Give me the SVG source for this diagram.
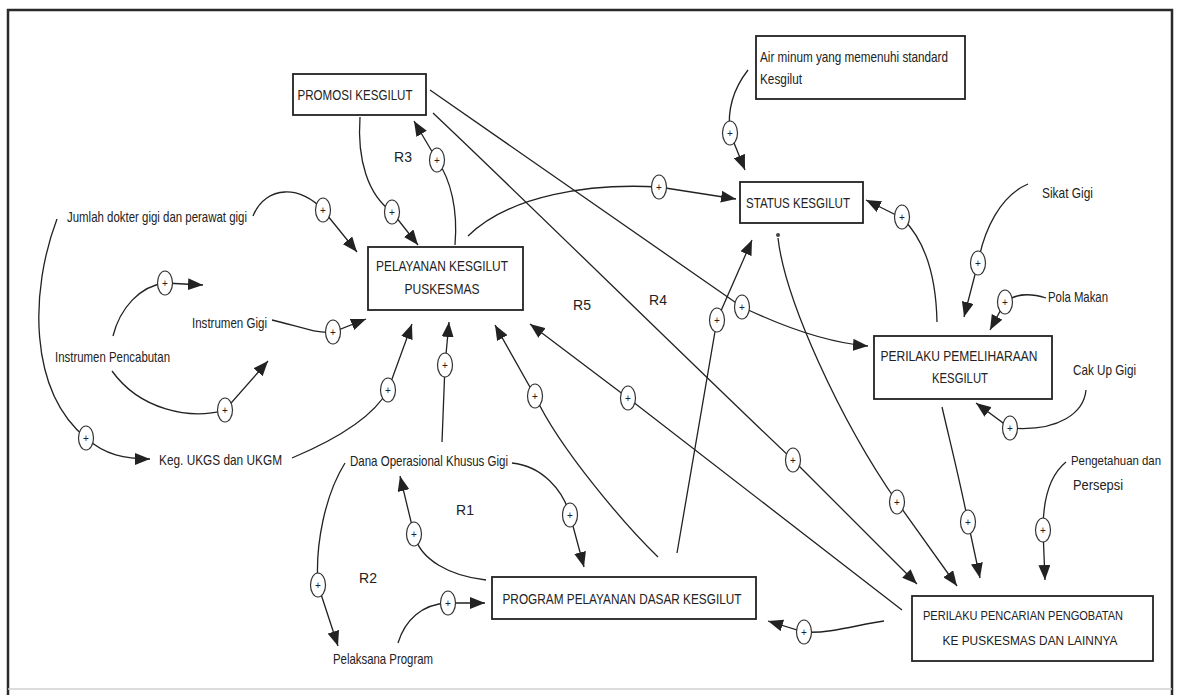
<svg xmlns="http://www.w3.org/2000/svg" xmlns:xlink="http://www.w3.org/1999/xlink" width="1182" height="695" viewBox="0 0 1182 695">
<style>
text{font-family:"Liberation Sans",Arial,sans-serif;fill:#222}
.lbl{font-size:15px}
.sm{font-size:13px}
.bt{font-size:15px;text-anchor:middle}
.bt2{font-size:13.5px;text-anchor:middle}
.box{fill:#fff;stroke:#222;stroke-width:1.8}
.conn path{fill:none;stroke:#222;stroke-width:1.3;marker-end:url(#ah)}
.pl ellipse{fill:#fff;stroke:#333;stroke-width:1.2}
.pl text{font-size:10px;text-anchor:middle}
.r{font-size:14px;text-anchor:middle}
</style>
<defs>
<marker id="ah" markerUnits="userSpaceOnUse" markerWidth="16" markerHeight="12" refX="15" refY="6" orient="auto">
<path d="M0,0 L15,6 L0,12 z" fill="#222"/>
</marker>
<g id="plus" class="pl"><ellipse cx="0" cy="0" rx="7.5" ry="12"/><text x="0" y="3.5">+</text></g>
</defs>
<rect width="1182" height="695" fill="#fff"/>
<path d="M8,697 V10 H1172 V697" fill="none" stroke="#2a2a2a" stroke-width="2.5"/>
<line x1="8" y1="689" x2="1172" y2="689" stroke="#d0d0d0" stroke-width="1.5"/>

<g id="connectors" class="conn">
<path d="M253,216 C266,184 302,186 323,210 L357,252"/>
<path d="M360,117 C357,160 368,195 392,212 L418,245"/>
<path d="M455,245 C458,210 451,180 437,160 L414,121"/>
<path d="M468,236 C510,195 590,183 659,187 L736,199"/>
<path d="M748,70 C734,88 727,110 730,133 L745,170"/>
<path d="M430,90 L742,307 C790,330 830,343 868,346"/>
<path d="M937,322 C936,275 925,240 902,218 L866,200"/>
<path d="M1028,184 C1000,196 984,230 978,263 L964,317"/>
<path d="M1046,298 C1030,293 1015,294 1005,302 L990,330"/>
<path d="M1086,390 C1084,412 1060,432 1010,428 L976,403"/>
<path d="M677,553 L717,320 L752,240"/>
<path d="M658,557 C628,528 560,450 535,396 L495,325"/>
<path d="M902,610 L628,398 L530,324"/>
<path d="M433,113 C520,195 700,372 793,460 L917,584"/>
<path d="M778,238 C785,300 840,420 897,502 L957,586"/>
<path d="M942,407 C952,450 962,490 968,522 L980,578"/>
<path d="M1066,462 C1050,475 1043,500 1043,530 L1045,580"/>
<path d="M884,621 C860,624 830,634 804,632 L768,621"/>
<path d="M442,442 L445,365 L449,322"/>
<path d="M292,458 C330,442 372,420 388,390 L412,324"/>
<path d="M272,320 C295,325 315,334 333,332 L366,319"/>
<path d="M112,371 C140,410 190,420 225,410 L268,361"/>
<path d="M113,336 C120,308 140,286 165,283 L203,285"/>
<path d="M57,219 C30,290 28,390 86,438 C105,455 125,459 150,459"/>
<path d="M512,463 C542,466 563,490 570,515 L584,567"/>
<path d="M486,580 C450,576 420,560 414,534 L400,476"/>
<path d="M345,463 C325,495 315,545 318,585 L338,646"/>
<path d="M398,643 C405,620 422,604 448,603 L485,603"/>
<circle cx="778" cy="235" r="2" fill="#444"/>
<use xlink:href="#plus" x="323" y="210"/>
<use xlink:href="#plus" x="392" y="212"/>
<use xlink:href="#plus" x="437" y="160"/>
<use xlink:href="#plus" x="659" y="187"/>
<use xlink:href="#plus" x="730" y="133"/>
<use xlink:href="#plus" x="902" y="217"/>
<use xlink:href="#plus" x="978" y="263"/>
<use xlink:href="#plus" x="1005" y="302"/>
<use xlink:href="#plus" x="1010" y="428"/>
<use xlink:href="#plus" x="742" y="307"/>
<use xlink:href="#plus" x="717" y="320"/>
<use xlink:href="#plus" x="165" y="283"/>
<use xlink:href="#plus" x="333" y="332"/>
<use xlink:href="#plus" x="225" y="410"/>
<use xlink:href="#plus" x="388" y="390"/>
<use xlink:href="#plus" x="445" y="365"/>
<use xlink:href="#plus" x="535" y="396"/>
<use xlink:href="#plus" x="628" y="398"/>
<use xlink:href="#plus" x="793" y="460"/>
<use xlink:href="#plus" x="897" y="502"/>
<use xlink:href="#plus" x="968" y="522"/>
<use xlink:href="#plus" x="1043" y="530"/>
<use xlink:href="#plus" x="86" y="438"/>
<use xlink:href="#plus" x="414" y="534"/>
<use xlink:href="#plus" x="570" y="515"/>
<use xlink:href="#plus" x="318" y="585"/>
<use xlink:href="#plus" x="448" y="603"/>
<use xlink:href="#plus" x="804" y="632"/>
</g>

<g id="promosi"><rect class="box" x="293" y="74" width="133" height="41"/><text class="bt" x="355" y="100" textLength="115" lengthAdjust="spacingAndGlyphs">PROMOSI KESGILUT</text></g>
<g id="air-minum"><rect class="box" x="756" y="36" width="209" height="63"/><text class="lbl" x="760" y="62" textLength="188" lengthAdjust="spacingAndGlyphs">Air minum yang memenuhi standard</text><text class="lbl" x="760" y="84" textLength="42" lengthAdjust="spacingAndGlyphs">Kesgilut</text></g>
<g id="status"><rect class="box" x="740" y="182" width="123" height="41"/><text class="bt" x="798" y="208" textLength="104" lengthAdjust="spacingAndGlyphs">STATUS KESGILUT</text></g>
<g id="pelayanan"><rect class="box" x="368" y="247" width="155" height="63"/><text class="bt" x="442" y="271" textLength="132" lengthAdjust="spacingAndGlyphs">PELAYANAN KESGILUT</text><text class="bt" x="442" y="294" textLength="75" lengthAdjust="spacingAndGlyphs">PUSKESMAS</text></g>
<g id="pemeliharaan"><rect class="box" x="874" y="336" width="178" height="63"/><text class="bt" x="959" y="361" textLength="157" lengthAdjust="spacingAndGlyphs">PERILAKU PEMELIHARAAN</text><text class="bt" x="960" y="383" textLength="56" lengthAdjust="spacingAndGlyphs">KESGILUT</text></g>
<g id="program"><rect class="box" x="492" y="577" width="264" height="42"/><text class="bt" x="622" y="604" textLength="239" lengthAdjust="spacingAndGlyphs">PROGRAM PELAYANAN DASAR KESGILUT</text></g>
<g id="pencarian"><rect class="box" x="912" y="596" width="241" height="65"/><text class="bt2" x="1023" y="620" textLength="200" lengthAdjust="spacingAndGlyphs">PERILAKU PENCARIAN PENGOBATAN</text><text class="bt2" x="1030" y="645" textLength="175" lengthAdjust="spacingAndGlyphs">KE PUSKESMAS DAN LAINNYA</text></g>

<g id="jumlah"><text class="lbl" x="67" y="222" textLength="180" lengthAdjust="spacingAndGlyphs">Jumlah dokter gigi dan perawat gigi</text></g>
<g id="instrumen-pencabutan"><text class="lbl" x="55" y="362" textLength="115" lengthAdjust="spacingAndGlyphs">Instrumen Pencabutan</text></g>
<g id="instrumen-gigi"><text class="lbl" x="192" y="328" textLength="75" lengthAdjust="spacingAndGlyphs">Instrumen Gigi</text></g>
<g id="keg-ukgs"><text class="lbl" x="159" y="465" textLength="123" lengthAdjust="spacingAndGlyphs">Keg. UKGS dan UKGM</text></g>
<g id="dana"><text class="lbl" x="350" y="466" textLength="158" lengthAdjust="spacingAndGlyphs">Dana Operasional Khusus Gigi</text></g>
<g id="pelaksana"><text class="lbl" x="333" y="664" textLength="100" lengthAdjust="spacingAndGlyphs">Pelaksana Program</text></g>
<g id="sikat"><text class="lbl" x="1042" y="198" textLength="51" lengthAdjust="spacingAndGlyphs">Sikat Gigi</text></g>
<g id="pola"><text class="lbl" x="1048" y="302" textLength="60" lengthAdjust="spacingAndGlyphs">Pola Makan</text></g>
<g id="cakup"><text class="lbl" x="1073" y="375" textLength="63" lengthAdjust="spacingAndGlyphs">Cak Up Gigi</text></g>
<g id="pengetahuan"><text class="sm" x="1071" y="465" textLength="90" lengthAdjust="spacingAndGlyphs">Pengetahuan dan</text><text class="lbl" x="1073" y="490" textLength="50" lengthAdjust="spacingAndGlyphs">Persepsi</text></g>

<g id="loops">
<text class="r" x="403" y="162">R3</text>
<text class="r" x="582" y="310">R5</text>
<text class="r" x="658" y="305">R4</text>
<text class="r" x="465" y="515">R1</text>
<text class="r" x="368" y="583">R2</text>
</g>
</svg>
